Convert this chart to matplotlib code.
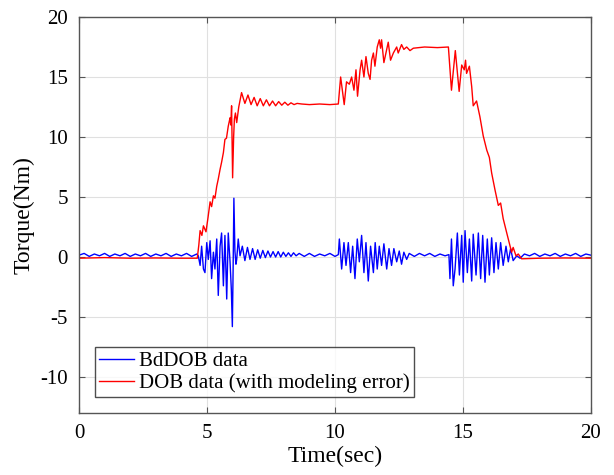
import matplotlib
matplotlib.use('Agg')
import matplotlib.pyplot as plt

# values: (time [s], torque [Nm])
bddob_pts = [(0.0, 0.15), (0.2, 0.3), (0.4, 0.05), (0.6, 0.25), (0.8, 0.1), (1.0, 0.3),
             (1.2, 0.05), (1.4, 0.25), (1.6, 0.1), (1.8, 0.3), (2.0, 0.05), (2.2, 0.25),
             (2.4, 0.1), (2.6, 0.3), (2.8, 0.05), (3.0, 0.25), (3.2, 0.1), (3.4, 0.3),
             (3.6, 0.05), (3.8, 0.25), (4.0, 0.1), (4.2, 0.3), (4.4, 0.05), (4.6, 0.25),
             (4.66, 0.1), (4.73, -0.7), (4.79, 0.9), (4.86, -1.0), (4.92, -1.3), (4.99, 1.2),
             (5.05, -0.2), (5.12, 1.35), (5.18, -1.8), (5.25, 0.4), (5.31, -1.0), (5.38, 1.5),
             (5.44, -3.2), (5.51, 0.9), (5.57, 2.0), (5.64, -2.4), (5.70, 1.8), (5.77, -3.5),
             (5.83, 2.0), (5.90, -0.4), (5.95, -2.7), (5.99, -5.8), (6.02, -1.0), (6.05, 4.9),
             (6.09, 0.5), (6.13, -0.6), (6.16, -0.2), (6.22, 1.5), (6.29, 0.1),
             (6.38, 0.9), (6.48, -0.3), (6.58, 0.8), (6.68, -0.2), (6.78, 0.7), (6.88, -0.2),
             (6.98, 0.6), (7.08, -0.1), (7.18, 0.55), (7.28, -0.05), (7.38, 0.5), (7.48, 0.0),
             (7.58, 0.45), (7.68, 0.0), (7.78, 0.45), (7.88, 0.0), (7.98, 0.4), (8.08, 0.05),
             (8.18, 0.35), (8.28, 0.05), (8.38, 0.35), (8.48, 0.1), (8.6, 0.3), (8.8, 0.05),
             (9.0, 0.3), (9.2, 0.05), (9.4, 0.25), (9.6, 0.1), (9.8, 0.3), (10.0, 0.05), (10.13, 0.2),
             (10.17, 1.5), (10.26, -1.0), (10.35, 1.2), (10.43, -0.7), (10.52, 1.2), (10.61, -1.3),
             (10.69, 0.9), (10.78, -1.8), (10.87, 1.5), (10.95, -0.4), (11.04, 1.8), (11.13, -1.3),
             (11.21, 1.2), (11.30, -2.0), (11.39, 0.9), (11.50, -1.3), (11.57, 1.2), (11.65, -1.0),
             (11.73, 0.9), (11.82, -0.7), (11.91, 1.1), (12.02, -1.0), (12.11, 0.7), (12.21, -0.7),
             (12.30, 0.7), (12.41, -0.4), (12.51, 0.5), (12.60, -0.6), (12.69, 0.4), (12.80, -0.2),
             (12.9, 0.3), (13.1, 0.05), (13.3, 0.3), (13.5, 0.1), (13.7, 0.3), (13.9, 0.05),
             (14.1, 0.25), (14.3, 0.1), (14.45, 0.2),
             (14.49, -1.8), (14.55, 1.5), (14.62, -2.4), (14.69, -1.0), (14.78, 2.0), (14.86, -1.5),
             (14.95, 1.8), (15.01, -2.1), (15.08, 2.2), (15.17, -1.3), (15.25, 1.5), (15.34, -2.0),
             (15.40, 1.9), (15.51, -1.5), (15.60, 2.0), (15.69, -1.8), (15.77, 1.8), (15.86, -2.1),
             (15.95, 1.5), (16.03, -1.5), (16.12, 1.6), (16.21, -1.3), (16.29, 1.2), (16.38, -1.0),
             (16.47, 1.2), (16.57, -0.7), (16.68, 0.9), (16.77, -0.4), (16.86, 0.7), (16.96, -0.3),
             (17.1, 0.1), (17.23, -0.1),
             (17.4, 0.25), (17.6, 0.1), (17.8, 0.3), (18.0, 0.05), (18.2, 0.25), (18.4, 0.1),
             (18.6, 0.3), (18.8, 0.05), (19.0, 0.25), (19.2, 0.1), (19.4, 0.3), (19.6, 0.05),
             (19.8, 0.25), (20.0, 0.15)]

dob_pts = [(0.0, -0.1), (1.0, -0.05), (2.0, -0.1), (3.0, -0.08), (4.0, -0.1), (4.62, -0.1),
           (4.68, 1.0), (4.73, 2.2), (4.80, 1.8), (4.86, 2.6), (4.96, 2.1), (5.04, 3.3),
           (5.12, 4.6), (5.18, 4.2), (5.25, 5.1), (5.31, 4.9), (5.38, 5.9), (5.44, 6.5),
           (5.51, 7.3), (5.57, 7.9), (5.64, 8.7), (5.70, 9.8), (5.76, 9.9), (5.83, 10.9),
           (5.87, 11.3), (5.90, 11.6), (5.93, 11.0), (5.96, 12.6), (6.00, 6.6), (6.04, 10.0),
           (6.07, 11.5), (6.11, 12.0), (6.16, 11.2), (6.24, 12.5), (6.35, 13.7),
           (6.48, 12.8), (6.60, 13.5), (6.72, 12.7), (6.84, 13.3), (6.96, 12.6), (7.08, 13.2),
           (7.20, 12.6), (7.32, 13.1), (7.44, 12.6), (7.56, 13.0), (7.68, 12.6), (7.80, 12.95),
           (7.92, 12.65), (8.04, 12.9), (8.16, 12.65), (8.28, 12.85), (8.40, 12.7), (8.52, 12.8),
           (8.70, 12.75), (9.0, 12.7), (9.4, 12.75), (9.8, 12.7), (10.13, 12.75),
           (10.22, 15.0), (10.36, 12.7), (10.45, 14.6), (10.56, 14.4), (10.65, 15.0), (10.74, 13.9),
           (10.82, 15.6), (10.88, 13.4), (10.98, 15.6), (11.04, 16.4), (11.13, 15.0), (11.21, 16.7),
           (11.30, 15.3), (11.37, 14.8), (11.43, 16.4), (11.50, 17.0), (11.56, 15.9), (11.65, 17.5),
           (11.73, 18.1), (11.78, 17.4), (11.82, 18.1), (11.91, 16.2), (11.99, 17.0), (12.08, 17.9),
           (12.17, 16.4), (12.28, 17.0), (12.41, 17.5), (12.47, 17.0), (12.60, 17.7), (12.69, 17.3),
           (12.80, 17.5), (12.93, 17.2), (13.06, 17.4), (13.5, 17.5), (14.0, 17.45), (14.43, 17.5),
           (14.55, 13.9), (14.70, 17.2), (14.85, 13.8), (14.95, 16.0), (15.05, 15.6), (15.10, 16.4),
           (15.14, 15.3), (15.25, 15.9), (15.34, 14.2), (15.40, 12.6), (15.53, 13.0), (15.66, 11.7),
           (15.79, 10.1), (15.93, 8.9), (16.03, 8.3), (16.12, 7.0), (16.25, 5.6), (16.38, 4.3),
           (16.47, 4.5), (16.57, 3.2), (16.71, 2.0), (16.84, 0.9), (16.90, 0.4), (16.96, 0.8),
           (17.07, 0.1), (17.16, 0.25), (17.29, -0.15), (18.0, -0.1), (19.0, -0.08), (20.0, -0.1)]

x_ticks = [0, 5, 10, 15, 20]
y_ticks = [-10, -5, 0, 5, 10, 15, 20]
series_labels = ['BdDOB data', 'DOB data (with modeling error)']

plt.rcParams['font.family'] = ['Liberation Serif', 'DejaVu Serif']
plt.rcParams['axes.unicode_minus'] = False

fig = plt.figure(figsize=(6.14, 4.75), dpi=100)
ax = fig.add_axes([0.1287, 0.1305, 0.8338, 0.8337])

bt, bv = zip(*bddob_pts)
rt, rv = zip(*dob_pts)
ax.plot(bt, bv, color='#0000ff', lw=1.0, label=series_labels[0])
ax.plot(rt, rv, color='#ff0000', lw=1.0, label=series_labels[1])

ax.set_xlim(0, 20)
ax.set_ylim(-13, 20)
ax.set_xticks(x_ticks)
ax.set_yticks(y_ticks)
ax.grid(True, color='#e0e0e0', lw=0.8)
ax.set_axisbelow(True)
ax.tick_params(direction='in', top=True, right=True, labelsize=15, length=4,
               color='#555555', pad=8)
for s in ax.spines.values():
    s.set_color('#555555')
    s.set_linewidth(1.0)

ax.set_xlabel('Time(sec)', fontsize=17, labelpad=2)
ax.set_ylabel('Torque(Nm)', fontsize=17, labelpad=4)

leg = ax.legend(loc='lower left', bbox_to_anchor=(0.031, 0.040), borderaxespad=0,
                fontsize=15, frameon=True, fancybox=False, handlelength=1.7,
                handletextpad=0.2, borderpad=0.2, labelspacing=0.1)
leg.get_frame().set_edgecolor('#222222')
leg.get_frame().set_linewidth(1.0)

fig.savefig('out.png', dpi=100)
